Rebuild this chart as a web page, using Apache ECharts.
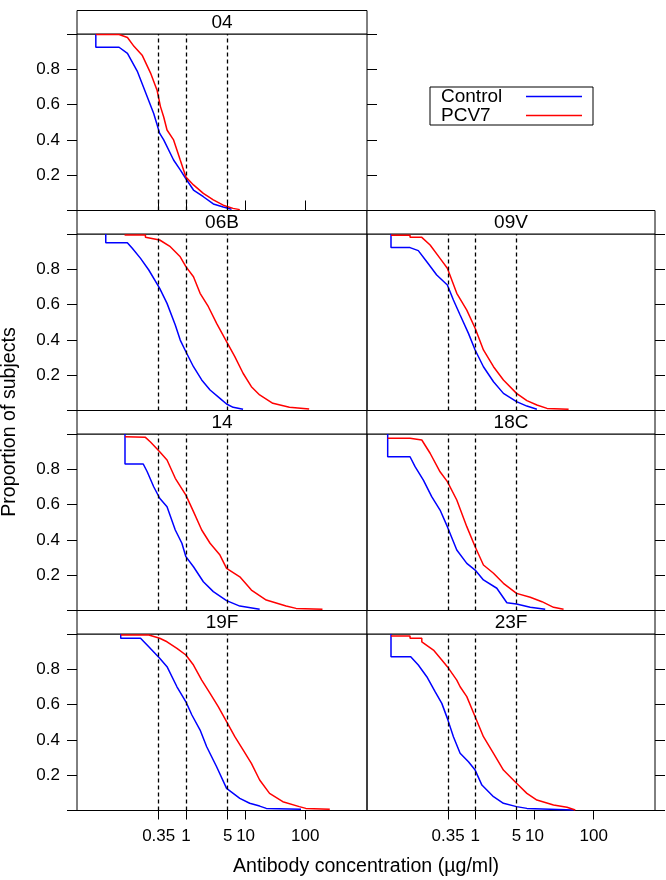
<!DOCTYPE html>
<html><head><meta charset="utf-8">
<script src="https://cdn.jsdelivr.net/npm/echarts@6/dist/echarts.min.js"></script>
<style>html,body{margin:0;padding:0;background:#fff}#c{width:666px;height:880px}</style>
</head><body><div id="c"></div>
<script>
// ---------- data ----------
const panelNames = ['04', '06B', '09V', '14', '18C', '19F', '23F'];
const seriesNames = ['Control', 'PCV7'];
const xTickValues = [0.35, 1, 5, 10, 100];
const xTickLabels = ['0.35', '1', '5', '10', '100'];
const cutoffValues = [0.35, 1, 5];
const yTickValues = [0, 0.2, 0.4, 0.6, 0.8, 1];
const yTickLabels = ['', '0.2', '0.4', '0.6', '0.8', ''];
const xTitle = 'Antibody concentration (µg/ml)';
const yTitle = 'Proportion of subjects';

const control04 = [[0.031,1.0],[0.031,0.925],[0.076,0.925],[0.105,0.89],[0.153,0.79],[0.225,0.645],[0.289,0.55],[0.364,0.437],[0.425,0.40],[0.622,0.286],[0.804,0.23],[1.0,0.18],[1.34,0.116],[1.96,0.078],[2.88,0.037],[4.22,0.02],[5.82,0.007]];
const pcv7_04 = [[0.031,0.997],[0.076,0.997],[0.105,0.98],[0.135,0.93],[0.185,0.88],[0.255,0.78],[0.33,0.68],[0.374,0.59],[0.425,0.53],[0.483,0.456],[0.622,0.40],[0.804,0.286],[1.0,0.19],[1.34,0.145],[1.96,0.097],[2.88,0.06],[4.22,0.03],[6.18,0.012],[8.0,0.005]];

const control06B = [[0.0455,1.0],[0.0455,0.951],[0.1045,0.951],[0.1265,0.919],[0.174,0.862],[0.239,0.796],[0.364,0.692],[0.483,0.607],[0.664,0.484],[0.804,0.399],[1.0,0.333],[1.34,0.248],[1.84,0.173],[2.54,0.116],[3.72,0.069],[4.80,0.037],[6.19,0.018],[9.07,0.007]];
const pcv7_06B = [[0.094,0.994],[0.21,0.994],[0.21,0.981],[0.364,0.966],[0.548,0.928],[0.804,0.871],[1.0,0.815],[1.34,0.758],[1.73,0.664],[2.38,0.588],[3.27,0.494],[4.80,0.390],[6.6,0.305],[9.07,0.211],[12.5,0.135],[17.2,0.088],[28.6,0.041],[54.2,0.018],[116,0.0085]];

const control09V = [[0.0381,1.0],[0.0381,0.923],[0.0798,0.923],[0.110,0.906],[0.153,0.843],[0.225,0.768],[0.340,0.711],[0.430,0.626],[0.558,0.541],[0.771,0.437],[1.0,0.343],[1.38,0.248],[2.04,0.163],[3.0,0.097],[4.99,0.050],[7.46,0.025],[11.0,0.007]];
const pcv7_09V = [[0.0381,0.993],[0.0798,0.993],[0.0798,0.981],[0.126,0.981],[0.174,0.938],[0.256,0.862],[0.340,0.806],[0.490,0.664],[0.723,0.569],[1.0,0.466],[1.38,0.343],[2.04,0.248],[3.0,0.173],[4.99,0.097],[7.46,0.056],[11.0,0.031],[16.3,0.012],[37.7,0.007]];

const control14 = [[0.0955,1.0],[0.0955,0.830],[0.193,0.830],[0.225,0.786],[0.289,0.701],[0.364,0.636],[0.483,0.588],[0.664,0.456],[0.857,0.381],[1.0,0.305],[1.34,0.248],[1.96,0.163],[2.88,0.107],[4.80,0.056],[8.0,0.025],[17.2,0.007]];
const pcv7_14 = [[0.0955,0.985],[0.21,0.981],[0.255,0.955],[0.364,0.900],[0.483,0.853],[0.664,0.749],[1.0,0.654],[1.34,0.560],[1.84,0.456],[2.54,0.381],[3.72,0.314],[4.80,0.239],[8.0,0.191],[12.5,0.116],[22.2,0.059],[47.7,0.025],[70,0.012],[194,0.007]];

const control18C = [[0.0335,1.0],[0.0335,0.871],[0.0798,0.871],[0.097,0.815],[0.134,0.739],[0.185,0.645],[0.256,0.569],[0.340,0.475],[0.490,0.343],[0.723,0.267],[1.0,0.229],[1.38,0.173],[2.32,0.126],[3.43,0.044],[4.99,0.037],[8.5,0.018],[15.2,0.007]];
const pcv7_18C = [[0.0335,0.976],[0.0798,0.976],[0.0798,0.966],[0.126,0.966],[0.174,0.891],[0.256,0.786],[0.340,0.730],[0.490,0.626],[0.723,0.475],[1.0,0.361],[1.38,0.258],[2.04,0.211],[3.0,0.154],[4.99,0.097],[8.5,0.075],[13.4,0.050],[21,0.018],[31,0.007]];

const control19F = [[0.081,1.0],[0.081,0.976],[0.174,0.976],[0.239,0.928],[0.364,0.862],[0.483,0.815],[0.708,0.701],[1.0,0.616],[1.26,0.541],[1.73,0.456],[2.23,0.361],[3.27,0.248],[4.80,0.125],[8.0,0.069],[11.7,0.041],[17.2,0.025],[22.2,0.012],[84.8,0.007]];
const pcv7_19F = [[0.081,0.994],[0.239,0.994],[0.364,0.976],[0.483,0.956],[0.708,0.919],[1.0,0.881],[1.34,0.824],[1.84,0.739],[2.54,0.664],[3.48,0.588],[4.80,0.503],[6.6,0.418],[9.07,0.343],[12.5,0.267],[17.2,0.173],[25.2,0.097],[42,0.050],[79.4,0.022],[102,0.012],[257,0.007]];

const control23F = [[0.0381,1.0],[0.0381,0.871],[0.0819,0.871],[0.110,0.824],[0.153,0.758],[0.211,0.673],[0.274,0.607],[0.340,0.522],[0.430,0.418],[0.558,0.324],[0.771,0.276],[1.0,0.229],[1.30,0.144],[2.04,0.078],[3.0,0.041],[4.99,0.022],[7.46,0.012],[45.8,0.003]];
const pcv7_23F = [[0.0381,0.989],[0.0798,0.989],[0.0798,0.976],[0.126,0.976],[0.126,0.956],[0.198,0.909],[0.274,0.853],[0.340,0.815],[0.490,0.739],[0.558,0.701],[0.723,0.645],[1.0,0.531],[1.38,0.418],[2.04,0.324],[3.0,0.229],[4.99,0.154],[7.46,0.097],[11.0,0.059],[21,0.031],[35.4,0.018],[48.9,0.003]];

const controlData = [control04, control06B, control09V, control14, control18C, control19F, control23F];
const pcv7Data = [pcv7_04, pcv7_06B, pcv7_09V, pcv7_14, pcv7_18C, pcv7_19F, pcv7_23F];

// ---------- layout / style ----------
const FONT = '"Liberation Sans", Arial, Helvetica, sans-serif';
const panelCells = [[0,0],[0,1],[1,1],[0,2],[1,2],[0,3],[1,3]];
const COL_L = [77, 367], COL_W = [290, 288];
const ROW_T = [34, 234, 434, 634], PLOT_H = 176.5, STRIP_H = 23.5;
const X_MIN = 0.015, X_MAX = 1080;
const COLORS = ['#0000ff', '#ff0000'];

const xFmt = v => { const i = xTickValues.findIndex(t => Math.abs(t - v) < 1e-9 * Math.max(1, t)); return i >= 0 ? xTickLabels[i] : ''; };
const yFmt = v => { const i = yTickValues.findIndex(t => Math.abs(t - v) < 1e-6); return i >= 0 ? yTickLabels[i] : ''; };

const grids = [], xAxes = [], yAxes = [], series = [], graphics = [];

function makeX(gi, opts) {
  return Object.assign({
    type: 'log', logBase: 10, gridIndex: gi, min: X_MIN, max: X_MAX, position: 'bottom',
    axisLine: { show: false }, splitLine: { show: false }, minorTick: { show: false }, minorSplitLine: { show: false },
    axisTick: { show: false, customValues: xTickValues, length: 9, lineStyle: { color: '#000', width: 1 } },
    axisLabel: { show: false, customValues: xTickValues, formatter: xFmt, margin: 17, fontSize: 17, color: '#000', fontFamily: FONT }
  }, opts);
}
function makeY(gi, pos, labels) {
  return {
    type: 'value', gridIndex: gi, min: 0, max: 1, interval: 0.2, position: pos,
    axisLine: { show: false }, splitLine: { show: false },
    axisTick: { show: true, length: 10, lineStyle: { color: '#000', width: 1 } },
    axisLabel: { show: labels, formatter: yFmt, margin: 17, fontSize: 17, color: '#000', fontFamily: FONT }
  };
}

panelNames.forEach((name, i) => {
  const [c, r] = panelCells[i];
  grids.push({ left: COL_L[c], top: ROW_T[r], width: COL_W[c], height: PLOT_H, show: true,
    borderColor: '#000', borderWidth: 1, backgroundColor: 'transparent', containLabel: false, outerBoundsMode: 'none' });
  const bottom = r === 3;
  const x = makeX(i, {});
  x.axisTick.show = bottom; x.axisLabel.show = bottom;
  xAxes.push(x);
  yAxes.push(makeY(i, c === 0 ? 'left' : 'right', c === 0));

  [controlData[i], pcv7Data[i]].forEach((d, k) => {
    const s = {
      type: 'line', name: seriesNames[k], xAxisIndex: i, yAxisIndex: i, data: d,
      color: COLORS[k], symbol: 'none', showSymbol: false, smooth: false,
      lineStyle: { color: COLORS[k], width: 1.5 }, emphasis: { disabled: true }, z: 3, animation: false
    };
    if (k === 0) {
      s.markLine = {
        silent: true, symbol: ['none', 'none'], label: { show: false }, animation: false,
        lineStyle: { color: '#000', type: [4, 3], width: 1.3 },
        emphasis: { disabled: true },
        data: cutoffValues.map(v => ({ xAxis: v }))
      };
    }
    series.push(s);
  });

  // strip
  graphics.push({ type: 'rect', shape: { x: COL_L[c], y: ROW_T[r] - STRIP_H, width: COL_W[c], height: STRIP_H },
    style: { fill: '#fff', stroke: '#000', lineWidth: 1 }, z: 1 });
  graphics.push({ type: 'text', x: COL_L[c] + COL_W[c] / 2, y: ROW_T[r] - STRIP_H / 2 + 1,
    style: { text: name, font: '19px ' + FONT, fill: '#000', align: 'center', verticalAlign: 'middle' }, z: 2 });
});

// panel 04: ticks on top (above the strip) and on the right
const x04top = makeX(0, { position: 'top', offset: STRIP_H });
x04top.axisTick.show = true; x04top.axisTick.length = 10;
xAxes.push(x04top);
yAxes.push(makeY(0, 'right', false));

graphics.push({ type: 'text', x: 366, y: 867,
  style: { text: xTitle, font: '19.6px ' + FONT, fill: '#000', align: 'center', verticalAlign: 'middle' } });
graphics.push({ type: 'text', x: 10, y: 422, rotation: Math.PI / 2,
  style: { text: yTitle, font: '19.6px ' + FONT, fill: '#000', align: 'center', verticalAlign: 'middle' } });

const chart = echarts.init(document.getElementById('c'), null, { renderer: 'canvas' });
chart.setOption({
  animation: false,
  backgroundColor: '#fff',
  grid: grids, xAxis: xAxes, yAxis: yAxes, series: series, graphic: graphics,
  legend: {
    data: seriesNames, orient: 'vertical', left: 430, top: 87, align: 'right',
    icon: 'rect', itemWidth: 56, itemHeight: 1.5, itemGap: 0, padding: [0, 11, 0, 11],
    borderColor: '#000', borderWidth: 1, selectedMode: false,
    formatter: n => '{a|' + n + '}',
    textStyle: { fontFamily: FONT, fontSize: 19, color: '#000',
      rich: { a: { width: 80, align: 'left', fontSize: 19, lineHeight: 19, fontFamily: FONT, color: '#000' } } }
  }
});
</script></body></html>
